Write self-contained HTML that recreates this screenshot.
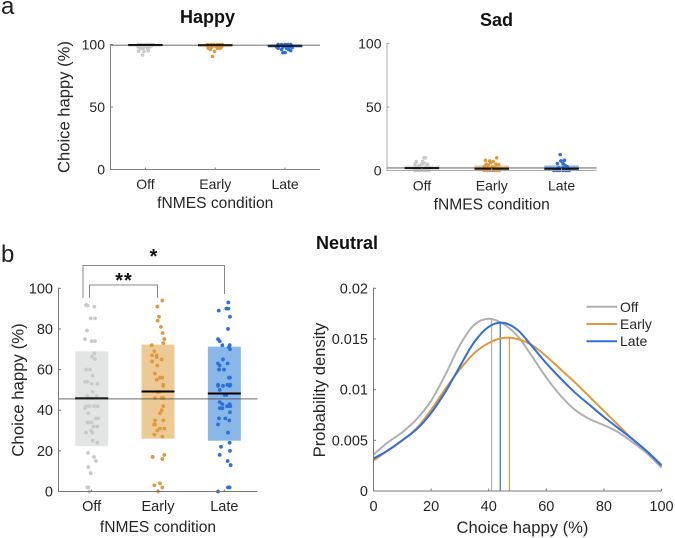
<!DOCTYPE html>
<html lang="en">
<head>
<meta charset="utf-8">
<title>Choice happy by fNMES condition</title>
<style>
html,body{margin:0;padding:0;background:#fff;width:675px;height:538px;overflow:hidden}
svg{display:block;font-family:"Liberation Sans",Arial,sans-serif}
</style>
</head>
<body>
<svg id="figure" width="675" height="538" viewBox="0 0 675 538" xmlns="http://www.w3.org/2000/svg">
  <text x="1" y="14" font-size="24" fill="#222">a</text>
  <text x="1" y="262" font-size="24" fill="#222">b</text>
  <text x="207.5" y="23" font-size="18" font-weight="bold" text-anchor="middle" fill="#111">Happy</text>
  <text x="496.5" y="26" font-size="18" font-weight="bold" text-anchor="middle" fill="#111">Sad</text>
  <text x="347" y="249" font-size="18" font-weight="bold" text-anchor="middle" fill="#111">Neutral</text>
  <path d="M83 298V265.5H224.5V294" fill="none" stroke="#888" stroke-width="1"/>
  <path d="M89.5 298V285H157.5V298" fill="none" stroke="#888" stroke-width="1"/>
  <text x="124" y="287" font-size="20" font-weight="bold" text-anchor="middle" letter-spacing="1" fill="#111">**</text>
  <text x="153.5" y="263" font-size="20" font-weight="bold" text-anchor="middle" fill="#111">*</text>
</svg>
<script>
const conditions = ['Off', 'Early', 'Late'];
const conditionColors = ['#c9c9c9', '#e09a3c', '#2f6fdc'];
const barColors = ['#e3e5e4', '#ecca95', '#88b7e8'];
const lineColors = ['#b0b0b0', '#e09a3c', '#2f6fdc'];

const stripTicks = [0, 50, 100];
const neutralTicks = [0, 20, 40, 60, 80, 100];
const densityYTicks = [0, 0.005, 0.01, 0.015, 0.02];
const densityYLabels = ['0', '0.005', '0.01', '0.015', '0.02'];
const densityXTicks = [0, 20, 40, 60, 80, 100];

const happyBarLow = [98, 98, 97.5];
const happyBarHigh = [100, 100, 100];
const happyMedians = [99.6, 99.5, 99];
const happyGrand = 99.4;
const sadBarLow = [0, 0, 0];
const sadBarHigh = [4, 4, 4];
const sadMedians = [2, 1.5, 1.5];
const sadGrand = 2;
const neutralBarLow = [22.3, 26, 25];
const neutralBarHigh = [69, 72.3, 71.3];
const neutralMedians = [45.8, 49.2, 48.2];
const neutralGrand = 45.6;

const happyOffValues = [91.5,94.5,94.5,95,96.5,97,97,98,98,98.5,99,99,99,99.5,99.5,100,100,100,100,100,100,100];
const happyOffJitter = [-.04,-.1,-.02,.04,-.07,-.03,.03,-.1,.06,-.01,-.11,-.05,.09,-.08,.02,-.1,-.06,-.02,.02,.05,.08,.11];
const happyEarlyValues = [90.5,94.5,96,97,97,97,98,98,98.5,99,99,99,99.5,99.5,100,100,100,100,100,100];
const happyEarlyJitter = [-.04,-.01,-.07,-.1,.07,.03,-.05,.09,.01,-.11,-.03,.06,-.07,.1,-.11,-.06,-.02,.03,.07,.1];
const happyLateValues = [93.5,93.5,95,96,96,97,97,97.5,98,98,98.5,99,99,99,99.5,100,100,100,100,100];
const happyLateJitter = [-.03,0,.08,-.05,.05,-.1,.02,.1,-.12,-.03,.06,-.09,-.01,.09,.04,-.1,-.05,0,.04,.08];

const sadOffValues = [10,10,7,7,6,5,5,5,4,3,3,2,2,1,1,1,0,0,0,0,0,0];
const sadOffJitter = [.03,.05,-.08,.01,.03,-.1,.0,.08,-.04,.06,-.09,-.02,.1,-.11,.03,.07,-.1,-.06,-.02,.02,.06,.1];
const sadEarlyValues = [10,8,7.5,7,6,5,5,4.5,4,3,3,2,2,1,1,0,0,0,0,0,0,0];
const sadEarlyJitter = [.07,-.09,-.03,.02,-.02,-.08,.06,.1,-.05,.01,-.11,.05,-.07,.09,-.03,-.11,-.07,-.03,.01,.05,.08,.11];
const sadLateValues = [12.5,8,7.5,5.5,5.5,4,3,2,2,1,1,0,0,0,0,0,0,0];
const sadLateJitter = [-.02,.04,-.01,-.06,.02,.05,.08,-.04,.02,-.09,.1,-.11,-.07,-.03,.02,.06,.09,.11];

const neutralOffValues = [91.8,91.5,91,85.2,85.2,79.2,75,74,74,68,66.4,65.2,60,60,57,54,54,53,53,49,47,47,46,46,42,42,42,42,41,38.5,36,36,34,34,34,32,32,30,29,29,25,24,19,17,15,12,9,2,2,0];
const neutralOffJitter = [-.085,-.06,.04,-.015,.05,-.07,-.1,0,.05,.04,.005,.05,-.085,-.025,.015,-.1,-.065,.085,0,.015,-.065,.075,0,-.05,-.085,-.035,.035,.09,-.1,-.05,.1,.065,-.065,-.035,0,.025,.085,-.01,-.085,.01,.015,.085,-.055,.035,.065,-.05,-.015,-.065,-.05,-.035];
const neutralEarlyValues = [94,91,86,84,81,78,75,73,72,69,67,67,66,65,64,62,58,56,56,55,52.5,52,49,49,46,46,46,42,40,38.5,35,35,33,33,31,31,30,28,27,18,17,17,16,4,3,2,0];
const neutralEarlyJitter = [.065,-.01,.015,-.005,.045,.07,.095,.08,-.095,-.055,-.09,-.02,-.02,.055,-.09,-.01,-.045,.03,.065,-.02,.08,.08,-.01,.02,-.045,.08,.055,.08,.055,.03,-.045,.08,-.045,-.06,.03,.095,-.01,-.055,.065,.095,-.08,-.08,.065,.03,-.055,.065,0];
const neutralLateValues = [93,90,90,89,86,80,75,74,72,72,71,70,65,63,63,62,60,60,56,56,52.5,52.5,52.5,52,52,52,50,47.5,47.5,44,43,43,42,42,42,41,41,39,36,36,35,33,29,24,22,20,18,15,13,2,2,0];
const neutralLateJitter = [.06,.03,.06,-.085,.085,.055,-.095,-.07,.08,-.03,.07,.085,-.02,-.095,.05,-.07,-.08,-.005,.07,.085,-.095,.045,.09,-.095,-.02,.08,-.07,.005,.03,-.07,.08,-.03,.06,.09,.04,-.07,-.03,.085,-.08,.015,.075,-.095,.055,.08,-.05,.085,-.07,.05,.095,.055,.08,-.095];

const densityX = [0,5,10,15,20,25,30,35,40,45,50,55,60,65,70,75,80,85,90,95,100];
const densityOff = [.0036,.0048,.0058,.0071,.0089,.0115,.0144,.0164,.0170,.0165,.0153,.0133,.0112,.0094,.0080,.0071,.0065,.0058,.0048,.0037,.0023];
const densityEarly = [.0030,.0040,.0050,.0062,.0080,.0101,.0120,.0136,.0146,.0151,.0150,.0144,.0133,.0120,.0107,.0093,.0079,.0065,.0051,.0039,.0026];
const densityLate = [.0032,.0040,.0050,.0061,.0077,.0098,.0123,.0147,.0162,.0166,.0159,.0143,.0126,.0111,.0097,.0085,.0073,.0062,.0051,.0039,.0025];
const densityMedians = [41, 47.2, 44];

const svg = document.getElementById('figure');
const NS = 'http://www.w3.org/2000/svg';

function shape(tag, attrs, name) {
  const el = document.createElementNS(NS, tag);
  Object.keys(attrs).forEach(function (k) { el.setAttribute(k, attrs[k]); });
  
  
  svg.appendChild(el);
  return el;
}
function label(x, y, str, size, anchor, name, rotate) {
  const attrs = { x: x, y: y, 'font-size': size, 'text-anchor': anchor, fill: '#262626' };
  if (rotate) attrs.transform = 'rotate(-90 ' + x + ' ' + y + ')';
  const el = shape('text', attrs, name);
  el.textContent = str;
}
function linear(d0, d1, r0, r1) {
  return function (v) { return r0 + (v - d0) * (r1 - r0) / (d1 - d0); };
}
function segment(x1, y1, x2, y2, color, width, name) {
  shape('line', { x1: x1, y1: y1, x2: x2, y2: y2, stroke: color, 'stroke-width': width }, name);
}

function stripPanel(cfg) {
  const x = linear(0.5, 3.5, cfg.left, cfg.right);
  const y = linear(0, 100, cfg.bottom, cfg.top);
  const half = cfg.barWidth / 2;
  const key = cfg.key;

  conditions.forEach(function (c, i) {
    shape('rect', {
      x: x(i + 1) - half, y: y(cfg.high[i]), width: cfg.barWidth,
      height: Math.abs(y(cfg.low[i]) - y(cfg.high[i])), fill: barColors[i]
    }, key + '-bar-' + c.toLowerCase());
  });
  conditions.forEach(function (c, i) {
    const vals = cfg.values[i];
    const jit = cfg.jitter[i];
    vals.forEach(function (v, j) {
      shape('circle', {
        cx: x(i + 1 + jit[j]), cy: y(v), r: cfg.dot, fill: conditionColors[i]
      }, key + '-point-' + c.toLowerCase());
    });
  });
  conditions.forEach(function (c, i) {
    segment(x(i + 1) - half, y(cfg.medians[i]), x(i + 1) + half, y(cfg.medians[i]), '#000', 2, key + '-median-' + c.toLowerCase());
  });
  segment(cfg.left, y(cfg.grand), cfg.right, y(cfg.grand), 'rgba(60,60,60,0.6)', 1.3, key + '-grand-mean-line');

  segment(cfg.left, cfg.top - 0.5, cfg.left, cfg.bottom + 0.5, cfg.axis, 1, key + '-y-axis');
  segment(cfg.left, cfg.bottom, cfg.right, cfg.bottom, cfg.axis, 1, key + '-x-axis');

  cfg.ticks.forEach(function (t) {
    segment(cfg.left, y(t), cfg.left + 2.5, y(t), cfg.axis, 1, key + '-y-tick');
    label(cfg.left - 5.5, y(t) + 5, String(t), cfg.tickSize, 'end', key + '-y-tick-label');
  });
  conditions.forEach(function (c, i) {
    segment(x(i + 1), cfg.bottom, x(i + 1), cfg.bottom - 2, cfg.axis, 1, key + '-x-tick');
    label(x(i + 1), cfg.catBase, c, cfg.tickSize, 'middle', key + '-x-tick-label');
  });
  label(x(2), cfg.xTitleBase, 'fNMES condition', cfg.xTitleSize, 'middle', key + '-x-axis-title');
  if (cfg.yTitleX) {
    label(cfg.yTitleX, cfg.yTitleY, 'Choice happy (%)', cfg.yTitleSize, 'middle', key + '-y-axis-title', true);
  }
}

stripPanel({
  key: 'happy', left: 110.5, right: 320, top: 44.5, bottom: 169.5, barWidth: 34.5, dot: 1.8,
  axis: '#808080', low: happyBarLow, high: happyBarHigh, medians: happyMedians, grand: happyGrand,
  values: [happyOffValues, happyEarlyValues, happyLateValues],
  jitter: [happyOffJitter, happyEarlyJitter, happyLateJitter],
  ticks: stripTicks, tickSize: 14, catBase: 189, xTitleBase: 208, xTitleSize: 15.6,
  yTitleX: 69.5, yTitleY: 107, yTitleSize: 16.6
});
stripPanel({
  key: 'sad', left: 387, right: 596.5, top: 43.5, bottom: 170.5, barWidth: 34.5, dot: 1.8,
  axis: '#a8a8a8', low: sadBarLow, high: sadBarHigh, medians: sadMedians, grand: sadGrand,
  values: [sadOffValues, sadEarlyValues, sadLateValues],
  jitter: [sadOffJitter, sadEarlyJitter, sadLateJitter],
  ticks: stripTicks, tickSize: 14, catBase: 190.5, xTitleBase: 209.5, xTitleSize: 15.6
});
stripPanel({
  key: 'neutral', left: 58.5, right: 257.5, top: 288.3, bottom: 491.5, barWidth: 33, dot: 1.9,
  axis: '#777', low: neutralBarLow, high: neutralBarHigh, medians: neutralMedians, grand: neutralGrand,
  values: [neutralOffValues, neutralEarlyValues, neutralLateValues],
  jitter: [neutralOffJitter, neutralEarlyJitter, neutralLateJitter],
  ticks: neutralTicks, tickSize: 14.5, catBase: 511, xTitleBase: 532, xTitleSize: 15.6,
  yTitleX: 23.5, yTitleY: 390, yTitleSize: 16.8
});

const dx = linear(0, 100, 373.5, 661.5);
const dy = linear(0, 0.02, 491, 288.3);

function smoothPath(xs, ys) {
  const px = xs.map(dx);
  const py = ys.map(dy);
  let d = 'M' + px[0] + ' ' + py[0];
  for (let i = 0; i < px.length - 1; i++) {
    const a = Math.max(i - 1, 0);
    const b = Math.min(i + 2, px.length - 1);
    d += 'C' + (px[i] + (px[i + 1] - px[a]) / 6) + ' ' + (py[i] + (py[i + 1] - py[a]) / 6) +
      ' ' + (px[i + 1] - (px[b] - px[i]) / 6) + ' ' + (py[i + 1] - (py[b] - py[i]) / 6) +
      ' ' + px[i + 1] + ' ' + py[i + 1];
  }
  return d;
}

const densitySeries = [densityOff, densityEarly, densityLate];
conditions.forEach(function (c, i) {
  segment(dx(densityMedians[i]), dy(0), dx(densityMedians[i]), dy(densitySeries[i][Math.round(densityMedians[i] / 5)]),
    lineColors[i], 1.2, 'density-median-' + c.toLowerCase());
});
conditions.forEach(function (c, i) {
  shape('path', {
    d: smoothPath(densityX, densitySeries[i]), fill: 'none', stroke: lineColors[i], 'stroke-width': 2
  }, 'density-curve-' + c.toLowerCase());
});

segment(dx(0), dy(0.02) - 0.5, dx(0), dy(0) + 0.5, '#777', 1, 'density-y-axis');
segment(dx(0), dy(0), dx(100), dy(0), '#777', 1, 'density-x-axis');
densityYTicks.forEach(function (t, i) {
  segment(dx(0), dy(t), dx(0) + 2.5, dy(t), '#777', 1, 'density-y-tick');
  label(368, dy(t) + 5, densityYLabels[i], 14.5, 'end', 'density-y-tick-label');
});
densityXTicks.forEach(function (t) {
  segment(dx(t), dy(0), dx(t), dy(0) - 2.5, '#777', 1, 'density-x-tick');
  label(dx(t), 511, String(t), 14.5, 'middle', 'density-x-tick-label');
});
label(522.5, 533, 'Choice happy (%)', 16.6, 'middle', 'density-x-axis-title');
label(325, 390, 'Probability density', 16.6, 'middle', 'density-y-axis-title', true);

conditions.forEach(function (c, i) {
  const ly = 306.8 + i * 17.2;
  segment(586.5, ly, 617, ly, lineColors[i], 2, 'legend-line-' + c.toLowerCase());
  label(620, ly + 5, c, 14, 'start', 'legend-label-' + c.toLowerCase());
});
</script>
</body>
</html>
